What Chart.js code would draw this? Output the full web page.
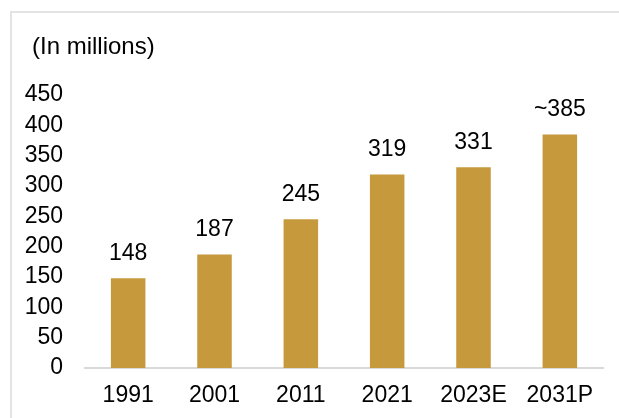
<!DOCTYPE html>
<html>
<head>
<meta charset="utf-8">
<script src="https://cdn.jsdelivr.net/npm/chart.js@4"></script>
<style>
  html, body { margin: 0; padding: 0; background: #fff; }
  #wrap { position: relative; width: 619px; height: 418px; overflow: hidden; }
  #frame { position: absolute; left: 10px; top: 11px; width: 700px; height: 500px;
           border-left: 2px solid #e3e3e3; border-top: 2px solid #e3e3e3; }
  canvas { position: absolute; left: 0; top: 0; }
</style>
</head>
<body>
<div id="wrap">
  <div id="frame"></div>
  <canvas id="chart" width="619" height="418"></canvas>
</div>
<script>
// ================= DATA =================
const categories = ["1991", "2001", "2011", "2021", "2023E", "2031P"];
const values = [148, 187, 245, 319, 331, 385];
const valueLabels = ["148", "187", "245", "319", "331", "~385"];
const unitLabel = "(In millions)";

const FONT = "'Liberation Sans', Arial, sans-serif";
const BAR_COLOR = "#c69a3c";

// ================= PLUGINS =================
const barLabels = {
  id: "barLabels",
  afterDatasetsDraw(chart) {
    const ctx = chart.ctx;
    const meta = chart.getDatasetMeta(0);
    ctx.save();
    ctx.font = "23px " + FONT;
    ctx.fillStyle = "#000";
    ctx.textAlign = "center";
    ctx.textBaseline = "middle";
    meta.data.forEach((bar, i) => {
      ctx.fillText(valueLabels[i], bar.x, bar.y - 25);
    });
    // unit label top left
    ctx.font = "24px " + FONT;
    ctx.textAlign = "left";
    ctx.fillText(unitLabel, 32, 47);
    ctx.restore();
  }
};

// ================= CHART =================
new Chart(document.getElementById("chart"), {
  type: "bar",
  data: {
    labels: categories,
    datasets: [{
      data: values,
      backgroundColor: BAR_COLOR,
      categoryPercentage: 1,
      barPercentage: 0.4
    }]
  },
  options: {
    responsive: false,
    animation: false,
    layout: { padding: { top: 95, right: 16, bottom: 0, left: 0 } },
    plugins: {
      legend: { display: false },
      tooltip: { enabled: false }
    },
    scales: {
      x: {
        grid: { display: false, drawTicks: false },
        border: { display: true, color: "#d9d9d9", width: 2 },
        ticks: { color: "#000", font: { family: FONT, size: 23 }, padding: 14, maxRotation: 0, autoSkip: false },
        afterFit(scale) { scale.height = 50; }
      },
      y: {
        min: 0,
        max: 450,
        grid: { display: false, drawTicks: false },
        border: { display: false },
        ticks: { stepSize: 50, color: "#000", font: { family: FONT, size: 23 }, padding: 22, autoSkip: false },
        afterFit(scale) { scale.width = 85; }
      }
    }
  },
  plugins: [barLabels]
});
</script>
</body>
</html>
